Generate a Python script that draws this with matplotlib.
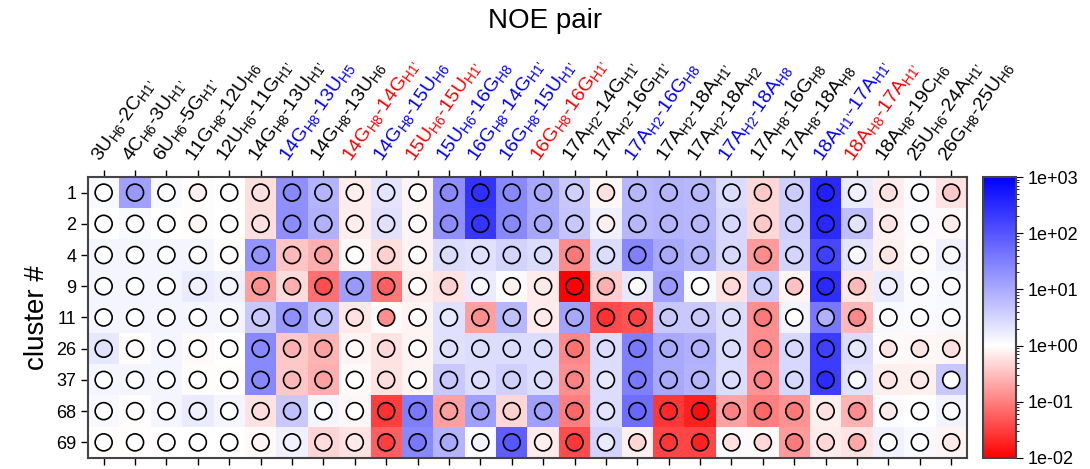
import numpy as np
import matplotlib
matplotlib.use('Agg')
import matplotlib.pyplot as plt
from matplotlib.colors import LinearSegmentedColormap, LogNorm

plt.rcParams['font.family'] = 'Liberation Sans'
plt.rcParams['mathtext.fontset'] = 'custom'
plt.rcParams['mathtext.rm'] = 'Liberation Sans'
plt.rcParams['mathtext.default'] = 'regular'

clusters = ['1', '2', '4', '9', '11', '26', '37', '68', '69']

# NOE pairs: (residue1, atom1, residue2, atom2)
pairs = [
    ('3U', 'H6', '2C', "H1'"), ('4C', 'H6', '3U', "H1'"), ('6U', 'H6', '5G', "H1'"),
    ('11G', 'H8', '12U', 'H6'), ('12U', 'H6', '11G', "H1'"), ('14G', 'H8', '13U', "H1'"),
    ('14G', 'H8', '13U', 'H5'), ('14G', 'H8', '13U', 'H6'), ('14G', 'H8', '14G', "H1'"),
    ('14G', 'H8', '15U', 'H6'), ('15U', 'H6', '15U', "H1'"), ('15U', 'H6', '16G', 'H8'),
    ('16G', 'H8', '14G', "H1'"), ('16G', 'H8', '15U', "H1'"), ('16G', 'H8', '16G', "H1'"),
    ('17A', 'H2', '14G', "H1'"), ('17A', 'H2', '16G', "H1'"), ('17A', 'H2', '16G', 'H8'),
    ('17A', 'H2', '18A', "H1'"), ('17A', 'H2', '18A', 'H2'), ('17A', 'H2', '18A', 'H8'),
    ('17A', 'H8', '16G', 'H8'), ('17A', 'H8', '18A', 'H8'), ('18A', "H1'", '17A', "H1'"),
    ('18A', 'H8', '17A', "H1'"), ('18A', 'H8', '19C', 'H6'), ('25U', 'H6', '24A', "H1'"),
    ('26G', 'H8', '25U', 'H6'),
]
label_colors = ['black'] * 6 + ['blue', 'black', 'red', 'blue', 'red', 'blue', 'blue', 'blue',
                'red', 'black', 'black', 'blue', 'black', 'black', 'blue', 'black', 'black',
                'blue', 'red', 'black', 'black', 'black']

# background cell values
cells = [
    [1.2, 13, 1.2, 0.95, 1.0, 0.57, 20, 7.6, 0.72, 2.1,
     0.85, 20, 238, 25, 10.5, 4.4, 0.88, 6.9, 7.6, 6.9,
     2.6, 0.49, 3.6, 338, 1.7, 0.73, 1.1, 0.61],
    [1.0, 1.2, 1.0, 0.95, 1.0, 0.57, 20, 8.5, 0.73, 2.3,
     0.85, 20, 219, 25, 10.5, 4.9, 1.5, 6.9, 7.6, 6.9,
     2.9, 0.49, 3.6, 304, 5.5, 0.8, 1.1, 0.91],
    [1.3, 1.3, 1.3, 1.3, 0.96, 18, 0.35, 0.24, 0.88, 0.57,
     0.8, 2.6, 2.3, 3.2, 2.6, 0.125, 2.6, 25, 10.5, 7.6,
     2.9, 0.17, 3.2, 142, 2.1, 0.76, 0.96, 1.5],
    [1.3, 1.3, 1.3, 1.7, 1.5, 0.18, 0.53, 0.076, 13, 0.087,
     0.73, 0.61, 1.7, 1.1, 0.71, 0.01, 0.43, 1.9, 13, 1.2,
     0.61, 4.0, 0.85, 274, 0.66, 1.7, 1.1, 1.2],
    [1.3, 1.3, 1.3, 1.3, 1.3, 4.4, 15.5, 5.5, 0.66, 0.91,
     0.85, 2.3, 0.18, 6.9, 0.71, 13, 0.039, 0.047, 4.4, 4.4,
     2.6, 0.135, 1.35, 39, 0.28, 1.2, 1.1, 1.2],
    [1.9, 0.95, 1.3, 0.91, 1.0, 25, 0.37, 0.26, 0.85, 0.61,
     0.85, 2.3, 2.6, 2.6, 2.6, 0.117, 2.6, 31, 10.5, 8.5,
     2.6, 0.135, 2.9, 197, 2.6, 0.91, 0.88, 0.85],
    [1.3, 1.3, 1.3, 0.95, 0.95, 25, 0.37, 0.24, 0.91, 0.61,
     0.85, 4.4, 2.6, 3.6, 2.6, 0.135, 2.6, 31, 10.5, 7.6,
     2.6, 0.145, 2.9, 197, 2.3, 0.76, 0.76, 4.4],
    [1.2, 0.96, 1.3, 1.7, 1.3, 0.61, 4.4, 1.3, 0.88, 0.032,
     31, 0.18, 13, 0.49, 13, 0.10, 2.6, 48, 0.028, 0.018,
     0.19, 0.10, 0.145, 0.76, 0.26, 1.1, 1.0, 1.35],
    [0.96, 0.95, 1.0, 1.0, 1.0, 0.91, 1.5, 0.46, 0.61, 0.056,
     25, 7.6, 1.1, 75, 0.71, 0.042, 3.2, 0.76, 0.036, 0.036,
     1.1, 0.91, 0.17, 0.69, 0.61, 1.5, 1.2, 0.85],
]

# circle values
circles = [
    [1.0, 16, 1.0, 0.73, 1.0, 0.57, 25, 7.6, 0.72, 2.1,
     1.0, 25, 274, 25, 10.5, 3.6, 0.57, 6.9, 7.6, 6.9,
     2.6, 0.37, 4.0, 420, 1.5, 0.57, 1.0, 0.37],
    [1.0, 1.0, 1.0, 0.85, 1.0, 0.57, 22, 8.5, 0.73, 2.3,
     1.0, 22, 240, 25, 10.5, 4.4, 0.76, 6.9, 7.6, 6.9,
     2.9, 0.37, 3.6, 338, 2.1, 0.61, 1.0, 0.69],
    [1.0, 1.0, 1.0, 1.0, 1.0, 18, 0.28, 0.18, 1.0, 0.43,
     1.0, 2.6, 2.3, 3.2, 2.6, 0.087, 2.6, 31, 10.5, 7.6,
     2.9, 0.125, 3.2, 177, 1.2, 0.61, 1.0, 1.0],
    [1.0, 1.0, 1.0, 1.5, 1.3, 0.135, 0.24, 0.042, 16, 0.056,
     1.0, 0.43, 1.2, 0.76, 0.66, 0.01, 0.24, 0.9, 16, 1.0,
     0.49, 4.0, 0.32, 338, 0.28, 1.5, 1.0, 1.0],
    [1.0, 1.0, 1.0, 1.0, 1.0, 4.4, 20, 5.5, 0.57, 0.135,
     1.0, 1.9, 0.135, 5.5, 0.66, 10.5, 0.024, 0.032, 4.4, 4.4,
     2.6, 0.087, 1.0, 8.5, 0.117, 1.0, 1.0, 1.0],
    [2.3, 1.0, 1.0, 1.0, 1.0, 25, 0.24, 0.18, 0.91, 0.49,
     1.0, 2.3, 2.6, 2.6, 2.6, 0.076, 2.6, 39, 10.5, 8.5,
     2.6, 0.087, 2.9, 177, 1.9, 0.61, 0.61, 0.57],
    [1.0, 1.0, 1.0, 1.0, 1.0, 25, 0.28, 0.18, 1.0, 0.53,
     1.0, 4.4, 2.6, 3.6, 2.6, 0.10, 1.9, 39, 10.5, 7.6,
     2.6, 0.10, 2.9, 304, 1.2, 0.61, 0.66, 1.0],
    [1.0, 1.0, 1.0, 1.5, 1.0, 0.53, 5.5, 1.0, 1.0, 0.024,
     39, 0.18, 16, 0.43, 13, 0.065, 2.1, 60, 0.021, 0.013,
     0.10, 0.065, 0.087, 0.57, 0.125, 0.66, 1.0, 1.0],
    [1.0, 1.0, 1.0, 1.0, 1.0, 0.85, 1.5, 0.53, 0.66, 0.032,
     39, 10.5, 1.35, 93, 0.76, 0.028, 1.7, 0.46, 0.028, 0.018,
     0.57, 0.49, 0.094, 0.49, 0.21, 1.0, 1.0, 0.66],
]


def pair_label(p):
    r1, a1, r2, a2 = p
    def part(r, a):
        return r + '$_{' + a.replace("'", '\u2019') + '}$'
    return part(r1, a1) + '-' + part(r2, a2)


cells = np.array(cells)
circles = np.array(circles)
nrow, ncol = cells.shape

cmap = LinearSegmentedColormap.from_list('rwb', [(0, 'red'), (0.4, 'white'), (1, 'blue')])
norm = LogNorm(vmin=1e-2, vmax=1e3)

fig = plt.figure(figsize=(10.9, 4.69), dpi=100)
ax = fig.add_axes([0.0807, 0.0235, 0.8064, 0.5991])
cax = fig.add_axes([0.9018, 0.0235, 0.0303, 0.5991])

im = ax.imshow(cells, cmap=cmap, norm=norm, aspect='auto', interpolation='nearest')
xx, yy = np.meshgrid(np.arange(ncol), np.arange(nrow))
ax.scatter(xx.ravel(), yy.ravel(), c=circles.ravel(), cmap=cmap, norm=norm,
           s=150, edgecolors='black', linewidths=1.2)

ax.set_xticks(np.arange(ncol))
ax.set_yticks(np.arange(nrow))
ax.set_yticklabels(clusters, fontsize=13)
ax.tick_params(axis='x', top=True, bottom=True, labeltop=True, labelbottom=False,
               length=5, width=1)
ax.tick_params(axis='y', length=5, width=1)
ax.set_xticklabels([pair_label(p) for p in pairs], rotation=55, ha='left',
                   rotation_mode='anchor', fontsize=14)
for t, col in zip(ax.get_xticklabels(), label_colors):
    t.set_color(col)
ax.set_xlim(-0.5, ncol - 0.5)
ax.set_ylim(nrow - 0.5, -0.5)
for sp in ax.spines.values():
    sp.set_color('#444444')
    sp.set_linewidth(1.5)
ax.set_ylabel('cluster #', fontsize=20)
fig.text(0.5, 0.956, 'NOE pair', fontsize=20, ha='center', va='center')

cb = fig.colorbar(im, cax=cax, format='%.0e')
cb.set_ticks([1e-2, 1e-1, 1e0, 1e1, 1e2, 1e3])
cb.ax.tick_params(labelsize=13, length=5)
cb.outline.set_edgecolor('#444444')
cb.outline.set_linewidth(1.5)

fig.savefig('out.png', dpi=100)
